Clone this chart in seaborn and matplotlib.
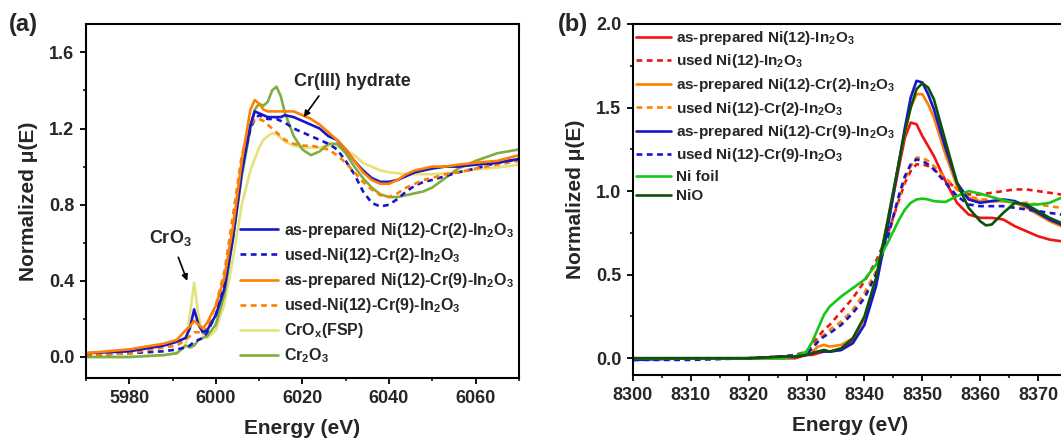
import numpy as np
import pandas as pd
import matplotlib
matplotlib.use('Agg')
import matplotlib.pyplot as plt
from matplotlib.ticker import MultipleLocator
import seaborn as sns

# ---------------- data: (a) Cr K-edge ----------------
cr_energy = [5970, 5980, 5988, 5991, 5993, 5994, 5995, 5996, 5997, 5998,
             6000, 6002, 6004, 6006, 6008, 6009, 6010, 6011, 6012, 6013,
             6014, 6015, 6016, 6018, 6020, 6022, 6024, 6026, 6028, 6030,
             6032, 6034, 6036, 6038, 6040, 6042, 6044, 6046, 6048, 6050,
             6053, 6056, 6060, 6065, 6070]

cr2_asp = [0.02, 0.03, 0.06, 0.08, 0.10, 0.15, 0.25, 0.17, 0.13, 0.14,
           0.22, 0.36, 0.63, 0.97, 1.22, 1.29, 1.28, 1.27, 1.26, 1.26,
           1.26, 1.26, 1.27, 1.26, 1.24, 1.22, 1.20, 1.16, 1.14, 1.09,
           1.03, 0.98, 0.94, 0.92, 0.92, 0.93, 0.95, 0.97, 0.98, 0.99,
           1.00, 1.00, 1.01, 1.02, 1.04]
cr2_used = [0.01, 0.02, 0.03, 0.04, 0.05, 0.06, 0.08, 0.09, 0.10, 0.13,
            0.22, 0.40, 0.68, 1.00, 1.20, 1.25, 1.27, 1.26, 1.25, 1.25,
            1.25, 1.24, 1.23, 1.20, 1.18, 1.16, 1.14, 1.12, 1.09, 1.03,
            0.96, 0.87, 0.81, 0.79, 0.80, 0.83, 0.87, 0.90, 0.92, 0.93,
            0.95, 0.97, 0.99, 1.02, 1.04]
cr9_asp = [0.02, 0.04, 0.07, 0.09, 0.14, 0.16, 0.19, 0.17, 0.15, 0.18,
           0.27, 0.42, 0.69, 1.03, 1.30, 1.35, 1.33, 1.30, 1.29, 1.29,
           1.29, 1.29, 1.29, 1.29, 1.27, 1.25, 1.22, 1.18, 1.14, 1.09,
           1.03, 0.97, 0.93, 0.91, 0.91, 0.93, 0.96, 0.98, 0.99, 1.00,
           1.00, 1.01, 1.02, 1.03, 1.06]
cr9_used = [0.01, 0.02, 0.05, 0.06, 0.09, 0.11, 0.13, 0.13, 0.12, 0.16,
            0.27, 0.45, 0.75, 1.06, 1.22, 1.25, 1.25, 1.24, 1.22, 1.20,
            1.18, 1.16, 1.14, 1.12, 1.11, 1.11, 1.10, 1.09, 1.06, 1.02,
            0.97, 0.92, 0.88, 0.85, 0.84, 0.86, 0.89, 0.91, 0.93, 0.94,
            0.96, 0.97, 0.99, 1.01, 1.03]
crox_fsp = [0.00, 0.00, 0.01, 0.02, 0.06, 0.22, 0.39, 0.22, 0.12, 0.10,
            0.14, 0.28, 0.52, 0.80, 0.98, 1.04, 1.10, 1.14, 1.16, 1.175,
            1.17, 1.15, 1.13, 1.11, 1.10, 1.10, 1.10, 1.11, 1.11, 1.09,
            1.06, 1.02, 1.00, 0.98, 0.97, 0.965, 0.96, 0.96, 0.96, 0.96,
            0.965, 0.97, 0.985, 0.995, 1.01]
cr2o3 = [0.00, 0.00, 0.01, 0.02, 0.06, 0.05, 0.06, 0.09, 0.10, 0.11,
         0.17, 0.33, 0.63, 0.95, 1.20, 1.30, 1.33, 1.32, 1.34, 1.40,
         1.42, 1.37, 1.28, 1.16, 1.09, 1.06, 1.08, 1.12, 1.12, 1.07,
         1.00, 0.94, 0.89, 0.855, 0.84, 0.84, 0.85, 0.86, 0.87, 0.89,
         0.94, 0.99, 1.03, 1.07, 1.09]

cr_labels = [r'as-prepared Ni(12)-Cr(2)-In$_2$O$_3$',
             r'used-Ni(12)-Cr(2)-In$_2$O$_3$',
             r'as-prepared Ni(12)-Cr(9)-In$_2$O$_3$',
             r'used-Ni(12)-Cr(9)-In$_2$O$_3$',
             r'CrO$_x$(FSP)',
             r'Cr$_2$O$_3$']

# ---------------- data: (b) Ni K-edge ----------------
ni_energy = [8300, 8310, 8320, 8326, 8328, 8330, 8331, 8332, 8333, 8334,
             8336, 8338, 8340, 8342, 8344, 8346, 8347, 8348, 8349, 8350,
             8351, 8352, 8354, 8356, 8358, 8360, 8361, 8362, 8364, 8366,
             8368, 8370, 8372, 8374, 8376, 8380]

ni12_asp = [0.00, 0.00, 0.00, 0.00, 0.00, 0.02, 0.02, 0.03, 0.04, 0.04,
            0.05, 0.11, 0.24, 0.46, 0.80, 1.15, 1.32, 1.41, 1.40, 1.33,
            1.27, 1.21, 1.06, 0.93, 0.86, 0.84, 0.84, 0.84, 0.83, 0.79,
            0.76, 0.73, 0.71, 0.70, 0.70, 0.70]
ni12_used = [0.00, 0.00, 0.00, 0.01, 0.02, 0.04, 0.08, 0.13, 0.17, 0.20,
             0.28, 0.36, 0.46, 0.58, 0.74, 0.95, 1.05, 1.12, 1.16, 1.16,
             1.15, 1.13, 1.07, 1.01, 0.98, 0.98, 0.985, 0.99, 1.00, 1.01,
             1.01, 1.00, 0.99, 0.98, 0.97, 0.96]
ni12cr2_asp = [0.00, 0.00, 0.00, 0.01, 0.01, 0.03, 0.04, 0.07, 0.08, 0.07,
               0.08, 0.12, 0.24, 0.47, 0.82, 1.18, 1.35, 1.50, 1.58, 1.58,
               1.52, 1.44, 1.22, 1.03, 0.96, 0.94, 0.94, 0.94, 0.94, 0.93,
               0.90, 0.86, 0.82, 0.79, 0.78, 0.77]
ni12cr2_used = [0.00, 0.00, 0.00, 0.01, 0.02, 0.03, 0.06, 0.11, 0.14, 0.17,
                0.22, 0.29, 0.39, 0.52, 0.72, 0.96, 1.07, 1.15, 1.20, 1.20,
                1.18, 1.15, 1.08, 1.01, 0.97, 0.95, 0.95, 0.94, 0.94, 0.93,
                0.93, 0.92, 0.91, 0.90, 0.90, 0.89]
ni12cr9_asp = [-0.01, 0.00, 0.00, 0.01, 0.01, 0.02, 0.03, 0.04, 0.04, 0.04,
               0.05, 0.09, 0.20, 0.43, 0.78, 1.18, 1.38, 1.56, 1.66, 1.65,
               1.58, 1.49, 1.26, 1.05, 0.95, 0.93, 0.935, 0.94, 0.95, 0.94,
               0.91, 0.87, 0.83, 0.80, 0.78, 0.77]
ni12cr9_used = [-0.01, -0.01, 0.00, 0.01, 0.02, 0.03, 0.06, 0.10, 0.13, 0.15,
                0.20, 0.27, 0.36, 0.50, 0.72, 0.98, 1.09, 1.16, 1.19, 1.18,
                1.16, 1.13, 1.05, 0.97, 0.92, 0.91, 0.91, 0.91, 0.91, 0.90,
                0.89, 0.88, 0.87, 0.86, 0.86, 0.85]
ni_foil = [0.00, 0.00, 0.00, 0.00, 0.01, 0.04, 0.10, 0.18, 0.26, 0.31,
           0.37, 0.42, 0.47, 0.56, 0.69, 0.83, 0.89, 0.93, 0.95, 0.955,
           0.95, 0.94, 0.935, 0.97, 1.00, 0.985, 0.975, 0.965, 0.945, 0.93,
           0.92, 0.92, 0.93, 0.96, 0.98, 1.01]
nio = [0.00, 0.00, 0.00, 0.01, 0.01, 0.02, 0.03, 0.04, 0.05, 0.04,
       0.06, 0.12, 0.25, 0.48, 0.82, 1.18, 1.36, 1.50, 1.61, 1.645,
       1.62, 1.55, 1.30, 1.05, 0.90, 0.82, 0.795, 0.80, 0.87, 0.93,
       0.92, 0.88, 0.84, 0.81, 0.79, 0.77]

ni_labels = [r'as-prepared Ni(12)-In$_2$O$_3$',
             r'used Ni(12)-In$_2$O$_3$',
             r'as-prepared Ni(12)-Cr(2)-In$_2$O$_3$',
             r'used Ni(12)-Cr(2)-In$_2$O$_3$',
             r'as-prepared Ni(12)-Cr(9)-In$_2$O$_3$',
             r'used Ni(12)-Cr(9)-In$_2$O$_3$',
             'Ni foil',
             'NiO']

# ---------------- style ----------------
sns.set_style('ticks')
plt.rcParams['font.family'] = ['Liberation Sans', 'DejaVu Sans']
plt.rcParams['font.weight'] = 'bold'
plt.rcParams['axes.labelweight'] = 'bold'
plt.rcParams['mathtext.fontset'] = 'custom'
plt.rcParams['mathtext.rm'] = 'Liberation Sans:bold'
plt.rcParams['mathtext.bf'] = 'Liberation Sans:bold'
plt.rcParams['mathtext.it'] = 'Liberation Sans:bold'
plt.rcParams['mathtext.default'] = 'bf'

BLUE = '#1616CC'
ORANGE = '#FF8000'
YELLOW = '#E3E37C'
OLIVE = '#7FAE42'
RED = '#F01414'
LIME = '#14C814'
DKGREEN = '#0B520B'
DASH = (0, (2.2, 1.7))
LW = 1.9

fig = plt.figure(figsize=(10.61, 4.41), dpi=100)
ax1 = fig.add_axes([0.081, 0.143, 0.408, 0.803])
ax2 = fig.add_axes([0.5966, 0.1497, 0.409, 0.796])


def style_axes(ax):
    for sp in ax.spines.values():
        sp.set_linewidth(1.5)
        sp.set_color('black')
    ax.tick_params(which='major', direction='out', length=4.5, width=1.3,
                   labelsize=13, pad=4, color='black')
    ax.tick_params(which='minor', direction='out', length=2.5, width=1.1,
                   color='black')
    for lab in ax.get_xticklabels() + ax.get_yticklabels():
        lab.set_fontweight('bold')


# ---------------- panel (a) ----------------
cr_series = [cr2_asp, cr2_used, cr9_asp, cr9_used, crox_fsp, cr2o3]
cr_colors = [BLUE, BLUE, ORANGE, ORANGE, YELLOW, OLIVE]
cr_styles = ['-', DASH, '-', DASH, '-', '-']
# references drawn first, samples on top
for idx in [4, 5, 1, 3, 0, 2]:
    sns.lineplot(x=cr_energy, y=cr_series[idx], ax=ax1, color=cr_colors[idx],
                 linestyle=cr_styles[idx], lw=LW, label=cr_labels[idx],
                 estimator=None, sort=True)

ax1.set_xlim(5970, 6070)
ax1.set_ylim(-0.11, 1.75)
ax1.xaxis.set_major_locator(MultipleLocator(20))
ax1.xaxis.set_minor_locator(MultipleLocator(10))
ax1.yaxis.set_major_locator(MultipleLocator(0.4))
ax1.yaxis.set_minor_locator(MultipleLocator(0.2))
ax1.set_xlabel('Energy (eV)', fontsize=15, fontweight='bold', labelpad=9)
ax1.set_ylabel('Normalized μ(E)', fontsize=15, fontweight='bold', labelpad=8)
style_axes(ax1)

handles, labels = ax1.get_legend_handles_labels()
order = [labels.index(l) for l in cr_labels]
ax1.legend([handles[i] for i in order], [labels[i] for i in order],
           loc='upper left', bbox_to_anchor=(240 / 1061, 1 - 221 / 441),
           bbox_transform=fig.transFigure, frameon=False, fontsize=11.5,
           handlelength=2.4, handletextpad=0.35, labelspacing=0.38,
           borderpad=0, borderaxespad=0)

ax1.annotate('CrO$_3$', xy=(5993.4, 0.40), xytext=(5989.6, 0.575),
             ha='center', va='bottom', fontsize=13, fontweight='bold',
             arrowprops=dict(arrowstyle='-|>', color='black', lw=1.2,
                             mutation_scale=9, shrinkA=5, shrinkB=0))
ax1.annotate('Cr(III) hydrate', xy=(6020.3, 1.26), xytext=(6018.0, 1.40),
             ha='left', va='bottom', fontsize=13, fontweight='bold',
             arrowprops=dict(arrowstyle='-|>', color='black', lw=1.2,
                             mutation_scale=9, shrinkA=2, shrinkB=0,
                             relpos=(0.25, 0.0)))

# ---------------- panel (b) ----------------
ni_series = [ni12_asp, ni12_used, ni12cr2_asp, ni12cr2_used,
             ni12cr9_asp, ni12cr9_used, ni_foil, nio]
ni_colors = [RED, RED, ORANGE, ORANGE, BLUE, BLUE, LIME, DKGREEN]
ni_styles = ['-', DASH, '-', DASH, '-', DASH, '-', '-']
for idx in range(len(ni_series)):
    sns.lineplot(x=ni_energy, y=ni_series[idx], ax=ax2, color=ni_colors[idx],
                 linestyle=ni_styles[idx], lw=LW, label=ni_labels[idx],
                 estimator=None, sort=True)

ax2.set_xlim(8300, 8375)
ax2.set_ylim(-0.1, 2.0)
ax2.xaxis.set_major_locator(MultipleLocator(10))
ax2.xaxis.set_minor_locator(MultipleLocator(5))
ax2.yaxis.set_major_locator(MultipleLocator(0.5))
ax2.yaxis.set_minor_locator(MultipleLocator(0.25))
ax2.set_xlabel('Energy (eV)', fontsize=15, fontweight='bold', labelpad=9)
ax2.set_ylabel('Normalized μ(E)', fontsize=15, fontweight='bold', labelpad=8)
style_axes(ax2)

ax2.legend(loc='upper left', bbox_to_anchor=(636 / 1061, 1 - 29 / 441),
           bbox_transform=fig.transFigure, frameon=False, fontsize=11,
           handlelength=2.3, handletextpad=0.35, labelspacing=0.36,
           borderpad=0, borderaxespad=0)

fig.text(9 / 1061, 1 - 25 / 441, '(a)', fontsize=17, fontweight='bold',
         ha='left', va='center')
fig.text(558 / 1061, 1 - 25 / 441, '(b)', fontsize=17, fontweight='bold',
         ha='left', va='center')

fig.savefig('out.png', dpi=100)
